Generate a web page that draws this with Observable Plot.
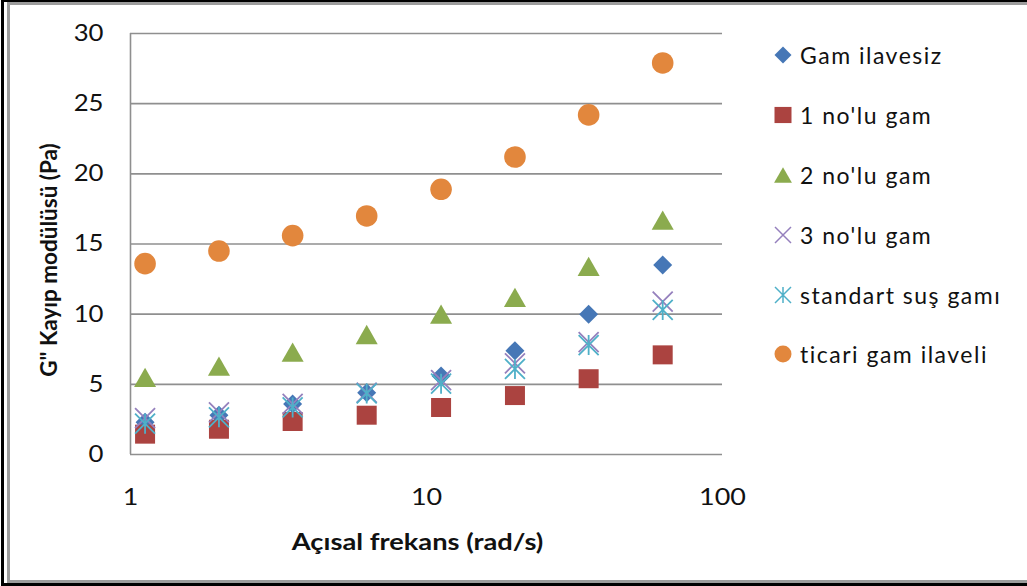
<!DOCTYPE html>
<html>
<head>
<meta charset="utf-8">
<script src="https://cdn.jsdelivr.net/npm/d3@7"></script>
<script src="https://cdn.jsdelivr.net/npm/@observablehq/plot@0.6"></script>
<style>
html, body { margin: 0; padding: 0; background: #fff; }
#wrap { position: relative; width: 1027px; height: 586px; overflow: hidden; font-family: Lato, sans-serif; background: #fff; }
#wrap > svg { position: absolute; left: 0; top: 0; }
.frameOuter { position: absolute; left: 1px; top: 0; width: 1100px; height: 586px; box-sizing: border-box;
  border-left: 3px solid #000; border-top: 2px solid #000; border-bottom: 3px solid #000; pointer-events: none; }
.frameInner { position: absolute; left: 7px; top: 2px; width: 1100px; height: 581px; box-sizing: border-box;
  border-left: 3px solid #9c9c9c; border-top: 3px solid #9c9c9c; border-bottom: 3px solid #9c9c9c; pointer-events: none; }
.legend { position: absolute; left: 772px; top: 0; }
.legend .row { position: absolute; left: 0; height: 30px; display: flex; align-items: center; white-space: nowrap;
  font-size: 23px; color: #111; letter-spacing: 1.5px; }
.legend .row svg { margin-right: 6px; }
</style>
</head>
<body>
<div id="wrap"></div>
<script>
// ---- data ----
const freq = [1.12, 1.99, 3.53, 6.28, 11.2, 19.9, 35.3, 62.8];
const gamIlavesiz = [2.3, 2.8, 3.6, 4.4, 5.6, 7.4, 10.0, 13.5];
const no1 = [1.45, 1.8, 2.35, 2.8, 3.35, 4.2, 5.4, 7.1];
const no2 = [5.5, 6.3, 7.3, 8.55, 10.0, 11.2, 13.4, 16.7];
const no3 = [2.6, 3.0, 3.6, 4.4, 5.3, 6.5, 8.0, 10.9];
const standart = [2.2, 2.65, 3.35, 4.35, 5.05, 6.1, 7.8, 10.3];
const ticari = [13.6, 14.5, 15.6, 17.0, 18.9, 21.2, 24.2, 27.9];
const seriesNames = ["Gam ilavesiz", "1 no'lu gam", "2 no'lu gam", "3 no'lu gam", "standart suş gamı", "ticari gam ilaveli"];
const xTicks = [1, 10, 100];
const yTicks = [0, 5, 10, 15, 20, 25, 30];
const xTitle = "Açısal frekans (rad/s)";
const yTitle = "G\" Kayıp modülüsü (Pa)";

// ---- symbols ----
const R = size => Math.sqrt(size / Math.PI);
const symDiamond = { draw(c, s) { const r = R(s); c.moveTo(0, -r); c.lineTo(r, 0); c.lineTo(0, r); c.lineTo(-r, 0); c.closePath(); } };
const symSquare = { draw(c, s) { const r = R(s); const h = r * 0.95; c.moveTo(-r, -h); c.lineTo(r, -h); c.lineTo(r, h); c.lineTo(-r, h); c.closePath(); } };
const symTriangle = { draw(c, s) { const r = R(s); c.moveTo(0, -0.92 * r); c.lineTo(1.05 * r, 0.92 * r); c.lineTo(-1.05 * r, 0.92 * r); c.closePath(); } };
const symTimes = { draw(c, s) { const r = R(s); c.moveTo(-r, -r); c.lineTo(r, r); c.moveTo(-r, r); c.lineTo(r, -r); } };
const symStar = { draw(c, s) { const r = R(s); c.moveTo(-r, -r); c.lineTo(r, r); c.moveTo(-r, r); c.lineTo(r, -r); c.moveTo(0, -r); c.lineTo(0, r); } };
const symCircle = { draw(c, s) { const r = R(s); c.moveTo(r, 0); c.arc(0, 0, r, 0, 2 * Math.PI); c.closePath(); } };

const series = [
  { name: seriesNames[0], values: gamIlavesiz, symbol: symDiamond, color: "#4677b6", filled: true, r: 9.5, lr: 8.5 },
  { name: seriesNames[1], values: no1, symbol: symSquare, color: "#ab4340", filled: true, r: 10, lr: 8.5 },
  { name: seriesNames[2], values: no2, symbol: symTriangle, color: "#8bab4e", filled: true, r: 10.5, lr: 8.5 },
  { name: seriesNames[3], values: no3, symbol: symTimes, color: "#9580bd", filled: false, r: 10, lr: 8 },
  { name: seriesNames[4], values: standart, symbol: symStar, color: "#4fb0c8", filled: false, r: 10, lr: 8 },
  { name: seriesNames[5], values: ticari, symbol: symCircle, color: "#e2873d", filled: true, r: 10.8, lr: 8.5 }
];

const dotMarks = series.map(s => {
  const data = freq.map((f, i) => ({ x: f, y: s.values[i] }));
  return s.filled
    ? Plot.dot(data, { x: "x", y: "y", symbol: s.symbol, r: s.r, fill: s.color, stroke: "none" })
    : Plot.dot(data, { x: "x", y: "y", symbol: s.symbol, r: s.r, fill: "none", stroke: s.color, strokeWidth: 1.8 });
});

const chart = Plot.plot({
  width: 1027,
  height: 586,
  marginLeft: 130,
  marginRight: 305,
  marginTop: 33,
  marginBottom: 132,
  style: { fontFamily: "Lato, sans-serif", fontSize: "23px", color: "#111", background: "transparent", overflow: "visible" },
  x: { type: "log", domain: [xTicks[0], xTicks[xTicks.length - 1]] },
  y: { domain: [yTicks[0], yTicks[yTicks.length - 1]] },
  marks: [
    Plot.gridY(yTicks, { stroke: "#8f8f8f", strokeOpacity: 1, strokeWidth: 1.6 }),
    Plot.ruleX([xTicks[0]], { stroke: "#8f8f8f", strokeWidth: 1.6 }),
    Plot.axisY(yTicks, { tickSize: 0, tickPadding: 27, fontSize: 23, label: null }),
    Plot.axisX(xTicks, { tickSize: 0, tickPadding: 34, fontSize: 23, label: null, tickFormat: d => String(d) }),
    ...dotMarks,
    Plot.text([yTitle], { text: d => d, frameAnchor: "left", rotate: -90, textAnchor: "middle", lineAnchor: "middle", dx: -81, dy: 16, fontSize: 22.5, fontWeight: "bold", fill: "#111" }),
    Plot.text([xTitle], { text: d => d, frameAnchor: "bottom", textAnchor: "middle", lineAnchor: "middle", dx: -9, dy: 88, fontSize: 22, fontWeight: "bold", fill: "#111" })
  ]
});

// stretch horizontal text like the reference's wide rendering (scale along x only)
function stretchEl(t, s) {
  const tr = t.getAttribute("transform") || "";
  t.setAttribute("transform", `${tr} scale(${s},1)`);
}
chart.querySelectorAll('g[aria-label="x-axis tick label"] text').forEach(t => stretchEl(t, 1.17));
chart.querySelectorAll('g[aria-label="y-axis tick label"] text').forEach(t => stretchEl(t, 1.12));
chart.querySelectorAll("text").forEach(t => { if (t.textContent === xTitle) stretchEl(t, 1.24); });

const wrap = document.getElementById("wrap");
wrap.appendChild(chart);

// frame
const fo = document.createElement("div"); fo.className = "frameOuter"; wrap.appendChild(fo);
const fi = document.createElement("div"); fi.className = "frameInner"; wrap.appendChild(fi);

// legend
const rowCenters = [55, 115, 175, 235, 295, 354];
const legend = document.createElement("div");
legend.className = "legend";
series.forEach((s, i) => {
  const row = document.createElement("div");
  row.className = "row";
  row.style.top = (rowCenters[i] - 15) + "px";
  const svg = d3.create("svg").attr("width", 22).attr("height", 22);
  const size = Math.PI * s.lr * s.lr;
  svg.append("path")
    .attr("transform", "translate(11,11)")
    .attr("d", d3.symbol(s.symbol, size)())
    .attr("fill", s.filled ? s.color : "none")
    .attr("stroke", s.filled ? "none" : s.color)
    .attr("stroke-width", s.filled ? 0 : 1.5);
  row.appendChild(svg.node());
  const t = document.createElement("span");
  t.textContent = s.name;
  row.appendChild(t);
  legend.appendChild(row);
});
wrap.appendChild(legend);
</script>
</body>
</html>
